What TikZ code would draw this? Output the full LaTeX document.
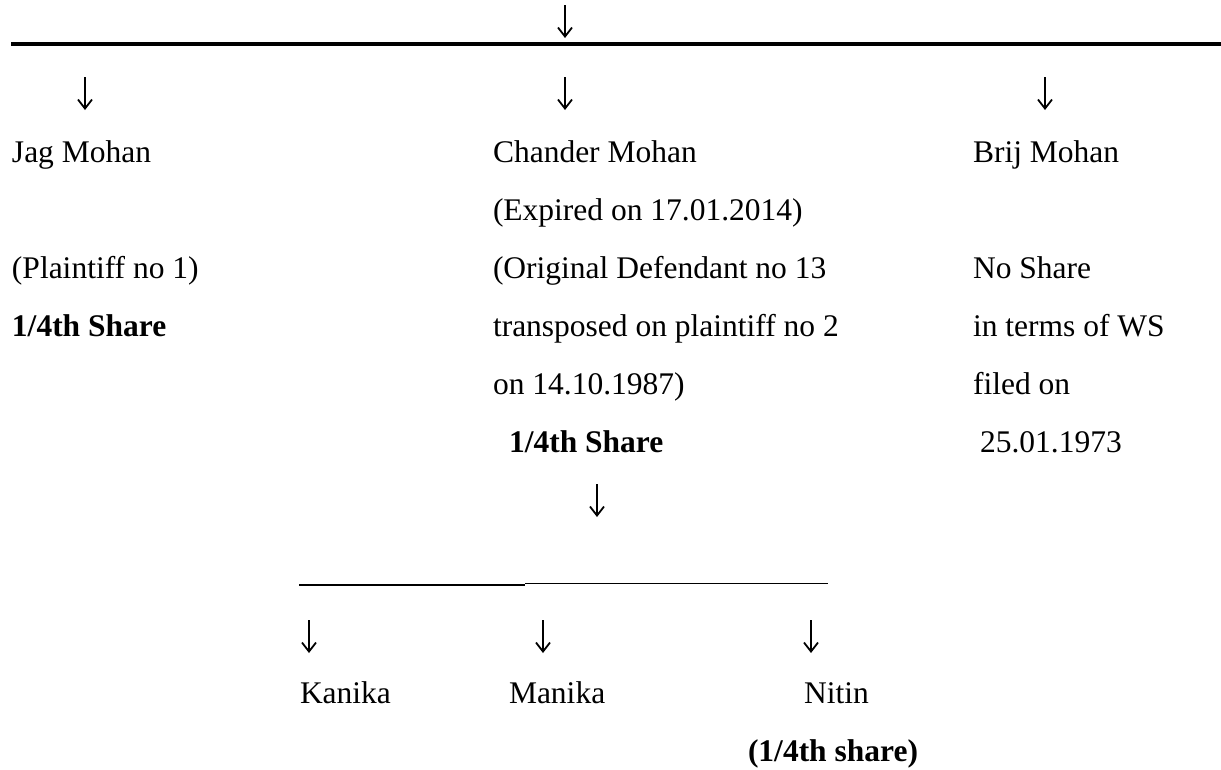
\documentclass[tikz,border=0pt]{standalone}
\usepackage{fontspec}
\setmainfont{Liberation Serif}
\usetikzlibrary{arrows.meta}
\tikzset{
  txt/.style={anchor=base west, inner sep=0pt, outer sep=0pt, font=\fontsize{31.5}{38}\selectfont},
  btxt/.style={txt, font=\fontsize{31.5}{38}\selectfont\bfseries},
  darrow/.style={line width=1.4pt, -{Straight Barb[length=9pt,width=14pt,line width=1.8pt]}},
  bar/.style={line width=3.4pt},
  uline/.style={line width=1.3pt}
}
\begin{document}
\begin{tikzpicture}[x=1pt,y=-1pt]
\useasboundingbox (0,0) rectangle (1221,769);
% top arrow and bar
\coordinate (t0) at (565,5); \coordinate (t1) at (565,38);
\draw[darrow] (t0) -- (t1);
\coordinate (barL) at (11,44); \coordinate (barR) at (1221,44);
\draw[bar] (barL) -- (barR);
% row arrows
\coordinate (j0) at (85,77);  \coordinate (j1) at (85,110);
\coordinate (c0) at (565,77); \coordinate (c1) at (565,110);
\coordinate (b0) at (1045,77); \coordinate (b1) at (1045,110);
\draw[darrow] (j0) -- (j1);
\draw[darrow] (c0) -- (c1);
\draw[darrow] (b0) -- (b1);
% Jag Mohan column
\node[txt]  (jag)  at (12,162) {Jag Mohan};
\node[txt]  (jag2) at (12,278) {(Plaintiff no 1)};
\node[btxt] (jag3) at (12,336) {1/4th Share};
% Chander Mohan column
\node[txt]  (ch)  at (493,162) {Chander Mohan};
\node[txt]  (ch2) at (493,220) {(Expired on 17.01.2014)};
\node[txt]  (ch3) at (493,278) {(Original Defendant no 13};
\node[txt]  (ch4) at (493,336) {transposed on plaintiff no 2};
\node[txt]  (ch5) at (493,394) {on 14.10.1987)};
\node[btxt] (ch6) at (509,452) {1/4th Share};
% Brij Mohan column
\node[txt] (br)  at (973,162) {Brij Mohan};
\node[txt] (br2) at (973,278) {No Share};
\node[txt] (br3) at (973,336) {in terms of WS};
\node[txt] (br4) at (973,394) {filed on};
\node[txt] (br5) at (980,452) {25.01.1973};
% arrow below Chander
\coordinate (d0) at (597,484); \coordinate (d1) at (597,517);
\draw[darrow] (d0) -- (d1);
% children bar
\coordinate (u0) at (299,585); \coordinate (u1) at (525,585);
\coordinate (u2) at (525,583.5); \coordinate (u3) at (828,583.5);
\draw[uline] (u0) -- (u1);
\draw[uline] (u2) -- (u3);
% children arrows
\coordinate (k0) at (309,620); \coordinate (k1) at (309,653);
\coordinate (m0) at (543,620); \coordinate (m1) at (543,653);
\coordinate (n0) at (811,620); \coordinate (n1) at (811,653);
\draw[darrow] (k0) -- (k1);
\draw[darrow] (m0) -- (m1);
\draw[darrow] (n0) -- (n1);
% children
\node[txt]  (kan) at (300,703) {Kanika};
\node[txt]  (man) at (509,703) {Manika};
\node[txt]  (nit) at (804,703) {Nitin};
\node[btxt] (nit2) at (748,761) {(1/4th share)};
\end{tikzpicture}
\end{document}
